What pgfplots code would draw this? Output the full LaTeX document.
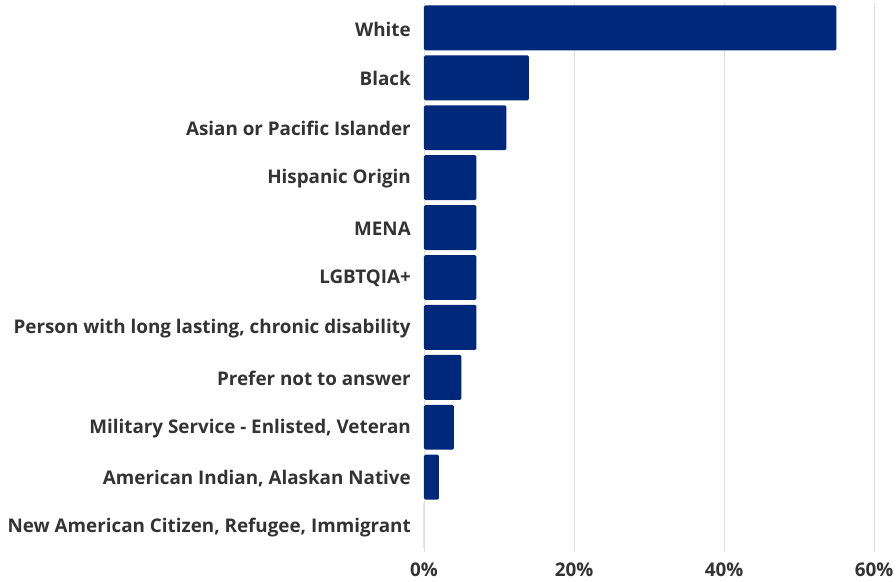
\documentclass[border=0pt]{standalone}
\usepackage{pgfplots}
\pgfplotsset{compat=1.18}
\usepackage{fontspec}
\setmainfont{Open Sans}
\definecolor{barblue}{HTML}{00287A}
\definecolor{txt}{HTML}{333333}
\definecolor{gridc}{HTML}{DDDDDD}
\begin{document}
\begin{tikzpicture}
\begin{axis}[
  scale only axis,
  width=450bp, height=549bp,
  xbar, bar width=0.9,
  xmin=0, xmax=60,
  ymin=-0.5, ymax=10.5,
  y dir=reverse,
  ytick={0,...,10},
  yticklabels={White,Black,Asian or Pacific Islander,Hispanic Origin,MENA,LGBTQIA+,{Person with long lasting, chronic disability},Prefer not to answer,{Military Service - Enlisted, Veteran},{American Indian, Alaskan Native},{New American Citizen, Refugee, Immigrant}},
  xtick={0,20,40,60},
  xticklabels={0\%,20\%,40\%,60\%},
  axis line style={draw=none},
  major tick length=0pt,
  xmajorgrids, grid style={gridc, line width=0.8bp},
  tick label style={font=\fontsize{18.9}{22}\selectfont\bfseries, text=txt, inner sep=0pt},
  yticklabel style={xshift=-13bp, yshift=-1bp},
  xticklabel style={yshift=-11bp},
]
\addplot[fill=barblue, draw=none, rounded corners=1.5bp] coordinates {
(55,0) (14,1) (11,2) (7,3) (7,4) (7,5) (7,6) (5,7) (4,8) (2,9) (0,10)};
\end{axis}
\pgfresetboundingbox
\path[use as bounding box] ([shift={(-424bp,-30bp)}]current axis.south west) rectangle ([shift={(22bp,3bp)}]current axis.north east);
\end{tikzpicture}
\end{document}
